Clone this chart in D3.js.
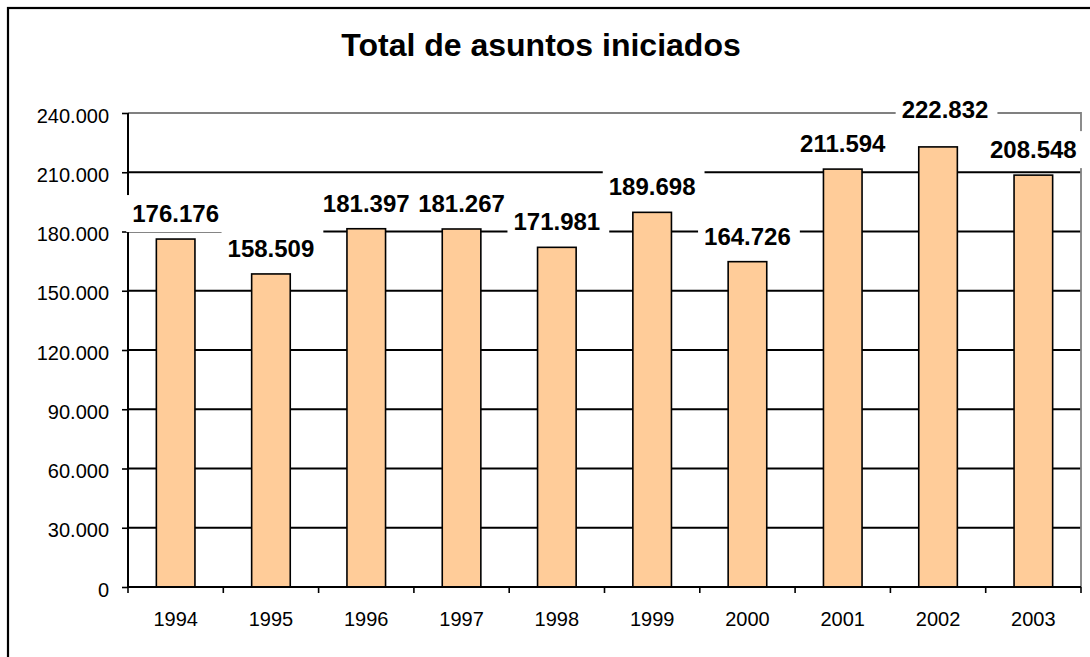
<!DOCTYPE html>
<html>
<head>
<meta charset="utf-8">
<script src="https://cdn.jsdelivr.net/npm/d3@7"></script>
<style>
  html, body { margin: 0; padding: 0; background: #fff; }
  svg { display: block; font-family: "Liberation Sans", Arial, sans-serif; }
</style>
</head>
<body>
<svg id="chart" width="1090" height="657"></svg>
<script>
const title = "Total de asuntos iniciados";
const years = ["1994", "1995", "1996", "1997", "1998", "1999", "2000", "2001", "2002", "2003"];
const values = [176176, 158509, 181397, 181267, 171981, 189698, 164726, 211594, 222832, 208548];
const yTicks = [0, 30000, 60000, 90000, 120000, 150000, 180000, 210000, 240000];

const W = 1090, H = 657;
const plot = { left: 128, right: 1081, top: 113, bottom: 587 };
// manual label nudges (layout only)
const labelNudge = { "2002": [7, -12] };

const loc = d3.formatLocale({ decimal: ",", thousands: ".", grouping: [3], currency: ["", ""] });
const fmt = loc.format(",");

const svg = d3.select("#chart");
svg.append("rect").attr("x", 0).attr("y", 0).attr("width", W).attr("height", H).attr("fill", "#fff");
// outer chart frame (extends past the right and bottom edge)
svg.append("rect").attr("x", 8).attr("y", 8).attr("width", 1200).attr("height", 800)
  .attr("fill", "none").attr("stroke", "#000").attr("stroke-width", 2.2);

svg.append("text").attr("x", 541).attr("y", 56).attr("text-anchor", "middle")
  .attr("font-size", 32).attr("font-weight", "bold").attr("fill", "#000").text(title);

const x = d3.scaleBand().domain(years).range([plot.left, plot.right]).padding(0);
const y = d3.scaleLinear().domain([0, 240000]).range([plot.bottom, plot.top]);

// gridlines
svg.append("g").selectAll("line").data(yTicks.filter(t => t > 0 && t < 240000)).join("line")
  .attr("x1", plot.left).attr("x2", plot.right)
  .attr("y1", d => y(d)).attr("y2", d => y(d))
  .attr("stroke", "#000").attr("stroke-width", 1.8);

// plot border (top & right, gray)
svg.append("path")
  .attr("d", `M${plot.left},${y(240000)}H${plot.right}V${plot.bottom}`)
  .attr("fill", "none").attr("stroke", "#808080").attr("stroke-width", 1.8);

// bars
const bw = x.bandwidth() * 0.405;
svg.append("g").selectAll("rect").data(values).join("rect")
  .attr("x", (d, i) => x(years[i]) + x.bandwidth() / 2 - bw / 2)
  .attr("y", d => y(d))
  .attr("width", bw)
  .attr("height", d => y(0) - y(d))
  .attr("fill", "#FFCC99").attr("stroke", "#000").attr("stroke-width", 1.6);

// y axis
const yAxis = svg.append("g").attr("transform", `translate(${plot.left},0)`)
  .call(d3.axisLeft(y).tickValues(yTicks).tickFormat(fmt).tickSize(6).tickPadding(13));
yAxis.select(".domain").attr("stroke", "#000").attr("stroke-width", 2).attr("d", `M0,${plot.top}V${plot.bottom}`);
yAxis.selectAll(".tick line").attr("stroke", "#000").attr("stroke-width", 1.6);
yAxis.selectAll("text").attr("font-size", 20).attr("fill", "#000").attr("dy", "0.45em")
  .attr("font-family", "'Liberation Sans', Arial, sans-serif");

// x axis
const xAxis = svg.append("g").attr("transform", `translate(0,${plot.bottom})`)
  .call(d3.axisBottom(x).tickSize(0).tickPadding(25));
xAxis.select(".domain").attr("stroke", "#000").attr("stroke-width", 2).attr("d", `M${plot.left},0H${plot.right}`);
xAxis.selectAll("text").attr("font-size", 20).attr("fill", "#000")
  .attr("font-family", "'Liberation Sans', Arial, sans-serif");
// category boundary ticks
const bounds = years.map(d => x(d)).concat([plot.right]);
xAxis.append("g").selectAll("line").data(bounds).join("line")
  .attr("x1", d => d).attr("x2", d => d).attr("y1", 0).attr("y2", 6)
  .attr("stroke", "#000").attr("stroke-width", 1.6);

// data labels with white boxes
const lg = svg.append("g");
values.forEach((v, i) => {
  const nd = labelNudge[years[i]] || [0, 0];
  const cx = x(years[i]) + x.bandwidth() / 2 + nd[0];
  const by = y(v) - 17 + nd[1];
  const g = lg.append("g");
  const t = g.append("text").attr("x", cx).attr("y", by).attr("text-anchor", "middle")
    .attr("font-size", 24).attr("font-weight", "bold").attr("fill", "#000").text(fmt(v));
  const bb = t.node().getBBox();
  g.insert("rect", "text").attr("x", bb.x - 6).attr("y", bb.y - 5)
    .attr("width", bb.width + 15).attr("height", bb.height + 10).attr("fill", "#fff");
});
</script>
</body>
</html>
